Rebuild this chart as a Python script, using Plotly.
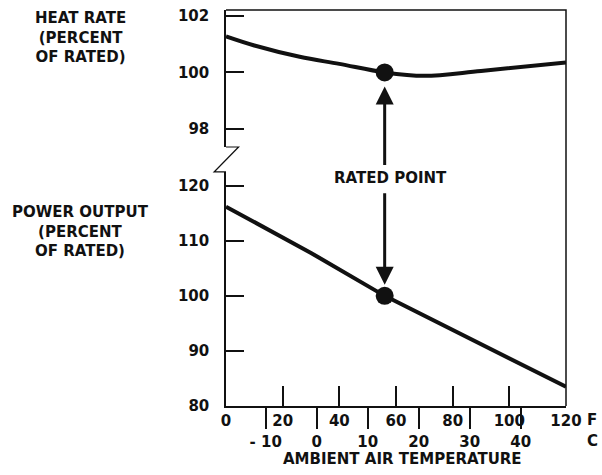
import plotly.graph_objects as go

# ambient temperature (deg F) and curves
temp_f_heat = [0, 10, 26, 40, 56, 70, 90, 120]
heat_rate = [101.27, 100.95, 100.55, 100.3, 100.0, 99.88, 100.05, 100.35]

temp_f_power = [0, 30, 56, 90, 120]
power_output = [116.2, 107.8, 100.0, 91.2, 83.5]

rated_f = [56]
rated_val = [100]

f_ticks = [0, 20, 40, 60, 80, 100, 120]
c_ticks = [-10, 0, 10, 20, 30, 40]
c_labels = ["- 10", "0", "10", "20", "30", "40"]
heat_ticks = [98, 100, 102]
power_ticks = [80, 90, 100, 110, 120]

ink = "#111111"
fnt = "DejaVu Sans"

fig = go.Figure()

fig.add_trace(go.Scatter(x=temp_f_heat, y=heat_rate, mode="lines", line=dict(color=ink, width=4, shape="spline"),
                         xaxis="x", yaxis="y2"))
fig.add_trace(go.Scatter(x=temp_f_power, y=power_output, mode="lines", line=dict(color=ink, width=4),
                         xaxis="x", yaxis="y"))
fig.add_trace(go.Scatter(x=rated_f, y=rated_val, mode="markers", marker=dict(color=ink, size=18),
                         xaxis="x", yaxis="y2"))
fig.add_trace(go.Scatter(x=rated_f, y=rated_val, mode="markers", marker=dict(color=ink, size=18),
                         xaxis="x", yaxis="y"))
# empty trace so the celsius axis gets drawn
fig.add_trace(go.Scatter(x=[], y=[], xaxis="x2", yaxis="y"))

tickfont = dict(family=fnt, size=15, color=ink, weight="bold")
labfont = dict(family=fnt, size=15, color=ink, weight="bold")

fig.update_layout(
    width=602, height=475,
    margin=dict(l=226, r=36, t=10, b=69, autoexpand=False),
    paper_bgcolor="white", plot_bgcolor="white",
    showlegend=False,
    xaxis=dict(range=[0, 120], domain=[0, 1], anchor="y", tickvals=f_ticks,
               ticks="inside", ticklen=20, tickwidth=1.5, tickcolor=ink,
               showline=True, linecolor=ink, linewidth=1.5, showgrid=False, zeroline=False,
               tickfont=tickfont, ticklabelstandoff=0, automargin=False),
    xaxis2=dict(range=[(0 - 32) / 1.8, (120 - 32) / 1.8], overlaying="x", anchor="y", side="bottom",
                tickvals=c_ticks, ticktext=c_labels, ticks="outside", ticklen=22, tickwidth=1.5, tickcolor=ink,
                showline=False, showgrid=False, zeroline=False, tickfont=tickfont,
                ticklabelstandoff=0, automargin=False),
    yaxis=dict(range=[80, 122.5], domain=[0, 0.591], anchor="x", tickvals=power_ticks,
               ticks="inside", ticklen=18, tickwidth=1.5, tickcolor=ink,
               showline=True, linecolor=ink, linewidth=1.5, showgrid=False, zeroline=False,
               tickfont=tickfont, ticklabelstandoff=12, automargin=False),
    yaxis2=dict(range=[97.37, 102.2], domain=[0.654, 1], anchor="x", tickvals=heat_ticks,
                ticks="inside", ticklen=18, tickwidth=1.5, tickcolor=ink,
                showline=True, linecolor=ink, linewidth=1.5, showgrid=False, zeroline=False,
                tickfont=tickfont, ticklabelstandoff=12, automargin=False),
)

# top and right border, plus the axis break on the left
fig.add_shape(type="path", path="M 0,1 L 1,1 L 1,0", xref="paper", yref="paper",
              line=dict(color=ink, width=1.5))
fig.add_shape(type="path", path="M 0,0.654 L 0.037,0.654 L -0.035,0.591 L 0,0.591",
              xref="paper", yref="paper", line=dict(color=ink, width=1.2))

# arrows to the rated point
fig.add_annotation(x=rated_f[0], y=rated_val[0], xref="x", yref="y2", text="", showarrow=True,
                   ax=0, ay=94, arrowhead=2, arrowsize=1.2, arrowwidth=3, arrowcolor=ink, standoff=14)
fig.add_annotation(x=rated_f[0], y=rated_val[0], xref="x", yref="y", text="", showarrow=True,
                   ax=0, ay=-104, arrowhead=2, arrowsize=1.2, arrowwidth=3, arrowcolor=ink, standoff=11)
fig.add_annotation(x=rated_f[0], y=0.576, xref="x", yref="paper", text="RATED POINT", showarrow=False,
                   xshift=6, font=labfont, bgcolor="white")

fig.add_annotation(x=0, y=(406 - 37) / 396, xref="paper", yref="paper", xanchor="center", yanchor="middle",
                   text="HEAT RATE<br>(PERCENT<br>OF RATED)", showarrow=False, font=labfont,
                   xshift=80 - 226)
fig.add_annotation(x=0, y=(406 - 231) / 396, xref="paper", yref="paper", xanchor="center", yanchor="middle",
                   text="POWER OUTPUT<br>(PERCENT<br>OF RATED)", showarrow=False, font=labfont,
                   xshift=80 - 226)
fig.add_annotation(x=0.5, y=0, xref="paper", yref="paper", xanchor="center", yanchor="middle",
                   text="AMBIENT AIR TEMPERATURE", showarrow=False, font=labfont,
                   xshift=6, yshift=-53)
fig.add_annotation(x=1, y=0, xref="paper", yref="paper", text="F", showarrow=False, font=labfont,
                   xanchor="center", yanchor="middle", xshift=592 - 566, yshift=-14)
fig.add_annotation(x=1, y=0, xref="paper", yref="paper", text="C", showarrow=False, font=labfont,
                   xanchor="center", yanchor="middle", xshift=592 - 566, yshift=-35)

# drop the browser's default body margin so the figure sits at the page corner
fig.write_html("out.html", config={"displayModeBar": False},
               post_script="document.body.style.margin='0';")
